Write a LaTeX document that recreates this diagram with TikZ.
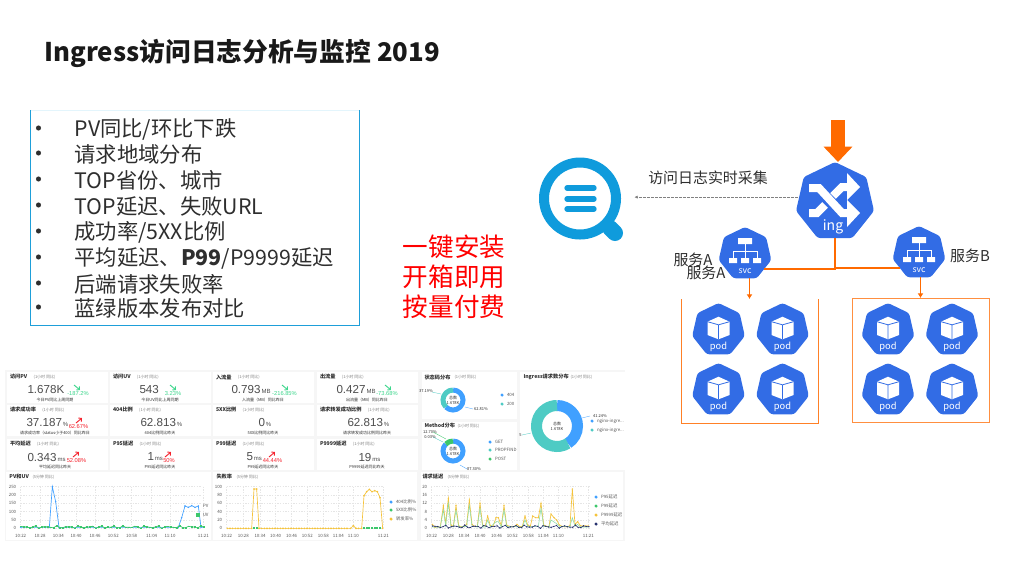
\documentclass[tikz,border=0pt]{standalone}
\usepackage{fontspec}
\setmainfont{Noto Sans CJK SC}
\newfontfamily\kpifont{Liberation Sans}
\usetikzlibrary{arrows.meta,shapes.geometric,plotmarks}

\definecolor{kubeblue}{HTML}{326CE5}
\definecolor{flowaccent}{HTML}{FF6A00}
\definecolor{logoblue}{HTML}{0F9BDC}
\definecolor{listblue}{HTML}{1E9FD9}
\definecolor{listtop}{HTML}{E3F5FC}
\definecolor{inktext}{HTML}{2E2E2E}
\definecolor{dashbg}{HTML}{F6F6F6}
\definecolor{chartblue}{HTML}{40A0FF}
\definecolor{chartgreen}{HTML}{3CC76B}
\definecolor{chartyellow}{HTML}{F5C33B}
\definecolor{chartnavy}{HTML}{27326E}
\definecolor{chartteal}{HTML}{4ECBC4}
\definecolor{kpired}{HTML}{F5222D}
\definecolor{kpigreen}{HTML}{3DD68C}

\tikzset{every picture/.style={line width=0.75pt},
  pagetitle/.style={inner sep=0pt,font=\fontsize{19.3}{24}\selectfont\bfseries,text=black!90},
  listitem/.style={anchor=west,inner sep=0pt,yshift=-1.2pt,font=\fontsize{16}{18}\selectfont,text=inktext},
  bulletdot/.style={circle,fill=inktext,inner sep=0pt,minimum size=3.8pt},
  pitchtext/.style={inner sep=0pt,font=\fontsize{19.2}{22}\selectfont,text=red},
  flowtext/.style={inner sep=0pt,yshift=-0.6pt,font=\fontsize{11.2}{13}\selectfont,text=inktext},
  kubehex/.style={regular polygon,regular polygon sides=7,fill=kubeblue,rounded corners=2pt,inner sep=0pt,outer sep=0pt},
  kubetext/.style={inner sep=0pt,text=white},
  podframe/.style={draw=none,inner sep=0pt,outer sep=0pt,anchor=north west,minimum width=102.75pt,minimum height=93pt},
  flowline/.style={draw=flowaccent,line width=1.1pt},
  flowarrow/.style={draw=flowaccent,line width=1.1pt,-{Latex[length=3.5pt,width=4.5pt]}},
  dashcard/.style={fill=white,draw=none,inner sep=0pt,outer sep=0pt,anchor=north west},
  cardtitle/.style={anchor=west,inner sep=0pt,font=\fontsize{3.9}{4.5}\selectfont\bfseries,text=inktext},
  cardsub/.style={anchor=west,inner sep=0pt,font=\fontsize{3}{4}\selectfont,text=gray},
  cardfoot/.style={inner sep=0pt,font=\fontsize{3}{4}\selectfont,text=inktext},
  kpivalue/.style={anchor=west,inner sep=0pt,font=\kpifont\fontsize{8.7}{10}\selectfont,text=inktext!85},
  kpidelta/.style={inner sep=0pt,font=\kpifont\fontsize{4.3}{5}\selectfont},
  kpiarrow/.style={line width=0.7pt,-{Straight Barb[length=1.6pt,width=3.4pt]}},
  charttick/.style={inner sep=0pt,font=\fontsize{3.3}{4}\selectfont,text=inktext!80},
  chartgrid/.style={draw=black!10,line width=0.3pt,dash pattern=on 1pt off 1pt},
  legendtext/.style={anchor=west,inner sep=0pt,font=\fontsize{3.3}{4}\selectfont,text=inktext!80},
  legenddot/.style={circle,inner sep=0pt,minimum size=2.6pt},
  leader/.style={line width=0.25pt},
  podicon/.pic={
    \begin{scope}[yscale=-1]
    \node (-hex) [kubehex,minimum size=40.5pt] at (0,0) {};
    \fill [white,line join=round] (0,-13.3) -- (11,-8.3) -- (11,5) -- (0,9.3) -- (-11,5) -- (-11,-8.3) -- cycle;
    \draw [kubeblue,line width=0.6pt] (-11,-8.3) -- (0,-5.2) -- (11,-8.3) (0,-5.2) -- (0,9.3);
    \node (-label) [kubetext,font=\fontsize{7}{8}\selectfont] at (0,16.7) {pod};
    \end{scope}
  },
  svcicon/.pic={
    \begin{scope}[yscale=-1]
    \node (-hex) [kubehex,minimum size=40.5pt] at (0,0) {};
    \fill [white] (-7,-16) rectangle (7,-10) (-16,4) rectangle (-8,9) (-4,4) rectangle (4,9) (8,4) rectangle (16,9);
    \draw [white,line width=0.7pt] (0,-10) -- (0,4) (-12,4) -- (-12,-2.5) -- (12,-2.5) -- (12,4);
    \node (-label) [kubetext,font=\fontsize{6.5}{7}\selectfont] at (0,17) {svc};
    \end{scope}
  },
  ingicon/.pic={
    \begin{scope}[yscale=-1]
    \node (-hex) [kubehex,minimum size=60pt] at (0,0) {};
    \draw [white,line width=6pt] (-26,-14) -- (-16,-14) -- (7,11) -- (13,11);
    \draw [white,line width=6pt] (-26,11) -- (-18,11) -- (-10,3);
    \draw [white,line width=6pt] (-2,-6) -- (7,-15) -- (13,-15);
    \fill [white] (12,-2) -- (25,11) -- (12,25) -- cycle;
    \fill [white] (12,-29) -- (25,-15) -- (12,-2) -- cycle;
    \node (-label) [kubetext,font=\fontsize{10.5}{12}\selectfont] at (-2,25) {ing};
    \end{scope}
  }
}

% name, x, y, title, footer, footer centre
\newcommand{\kpicard}[6]{
  \node (#1) [dashcard,minimum width=75.5pt,minimum height=23.6pt] at (#2,#3) {};
  \node (#1title) [cardtitle] at (#2+2.5,#3+5) {#4};
  \node (#1sub) [cardsub] at ([xshift=4pt]#1title.east) {(1小时 同比)};
  \node (#1foot) [cardfoot] at (#6,#3+28) {#5};
}
% name, x, y, value, unit
\newcommand{\kpinumber}[5]{
  \node (#1value) [kpivalue] at (#2,#3) {#4{\fontsize{4.5}{5}\selectfont\,#5}};
}
% name, x, y, text, colour
\newcommand{\kpichange}[5]{
  \node (#1delta) [kpidelta,text=#5] at (#2,#3) {#4};
}
% name, x, y, colour, text
\newcommand{\legendrow}[5]{
  \node (#1dot) [legenddot,fill=#4] at (#2,#3) {};
  \node (#1text) [legendtext] at (#2+4.5,#3) {#5};
}
% centre x, centre y, radius, width, start, end, colour
\newcommand{\donutarc}[7]{
  \draw [#7,line width=#4] (#1,#2) ++(#5:#3) arc (#5:#6:#3);
}

\begin{document}
\begin{tikzpicture}[x=0.75pt,y=0.75pt,yscale=-1,xscale=1]
\useasboundingbox (0,0) rectangle (1024,576);

% Text Node
\draw (44,53.5) node (title) [anchor=west,pagetitle] {Ingress访问日志分析与监控 2019};

%Shape: Rectangle
\draw [listtop] (30,110) -- (359,110);
\draw [listblue] (30,110) -- (30,325) -- (359,325) -- (359,110);

% Text Node
\draw (74,128) node (itema) [listitem] {PV同比/环比下跌};
\draw (74,153) node (itemb) [listitem] {请求地域分布};
\draw (74,179) node (itemc) [listitem] {TOP省份、城市};
\draw (74,205) node (itemd) [listitem] {TOP延迟、失败URL};
\draw (74,231) node (iteme) [listitem] {成功率/5XX比例};
\draw (74,257) node (itemf) [listitem] {平均延迟、\textbf{P99}/P9999延迟};
\draw (74,283) node (itemg) [listitem] {后端请求失败率};
\draw (74,307) node (itemh) [listitem] {蓝绿版本发布对比};
\foreach \zy in {128,153,179,205,231,257,283,307}
  \node (bullet\zy) [bulletdot] at (38.5,\zy) {};

% Text Node
\draw (454,247) node (pitcha) [pitchtext] {一键安装};
\draw (454,277) node (pitchb) [pitchtext] {开箱即用};
\draw (454,307) node (pitchc) [pitchtext] {按量付费};

%Shape: log service logo
\node (logo) [circle,draw=logoblue,line width=7.5pt,inner sep=0pt,minimum size=54pt] at (580,198.5) {};
\draw [logoblue,line width=4pt,line cap=round] (567,188) -- (594,188);
\draw [logoblue,line width=4pt,line cap=round] (567,199) -- (594,199);
\draw [logoblue,line width=4pt,line cap=round] (567,209) -- (594,209);
\draw [logoblue,line width=12pt,line cap=round] (610,228) -- (615,233);

%Shape: Kubernetes nodes
\pic (ing) at (835,202) {ingicon};
\pic (svca) at (745,254) {svcicon};
\pic (svcb) at (919,253) {svcicon};
\pic (podaa) at (718.5,330) {podicon};
\pic (podab) at (782.5,330) {podicon};
\pic (podac) at (718.5,390) {podicon};
\pic (podad) at (782.5,390) {podicon};
\pic (podba) at (888,330) {podicon};
\pic (podbb) at (952,330) {podicon};
\pic (podbc) at (888,390) {podicon};
\pic (podbd) at (952,390) {podicon};

%Shape: Rectangle
\node (framea) [podframe] at (681,299) {};
\node (frameb) [podframe] at (852,298) {};
\draw [flowaccent!85] (framea.north west) -- (framea.south west) -- (framea.south east) -- (framea.north east);
\draw [flowaccent!75] (frameb.north west) rectangle (frameb.south east);

%Straight Lines
\coordinate (traffic) at (838,120);
\draw [flowaccent,line width=10.5pt,-{Triangle[length=11.5pt,width=21pt]}] (traffic) -- (traffic |- ing-hex.north);
\draw [flowline] (ing-hex.side 4) |- (svca-hex.side 5);
\draw [flowline] (ing-hex.side 4) |- (svcb-hex.side 3);
\draw [flowarrow] (svca-hex.south -| framea.north) -- (framea.north);
\draw [flowarrow] (svcb-hex.south -| frameb.north) -- (frameb.north);
\coordinate (logoport) at ([yshift=-1pt,xshift=10pt]logo.east);
\draw [black!50,line width=0.6pt,dash pattern=on 2pt off 1pt,-{Latex[length=2.5pt,width=2.5pt]}] (ing-hex.west |- logoport) -- (logoport);

% Text Node
\draw (708,177) node (collect) [flowtext] {访问日志实时采集};
\draw (693,259) node (svcalabel) [flowtext] {服务A};
\draw (706,272) node (svcaagain) [flowtext] {服务A};
\draw (970,255) node (svcblabel) [flowtext] {服务B};

%Shape: dashboard
\node (dashboard) [dashcard,fill=dashbg,minimum width=465pt,minimum height=128.25pt] at (5,370) {};

\kpicard{pv}{7}{372}{访问PV}{今日PV同比上周同期}{55}
\kpicard{uv}{110}{372}{访问UV}{今日UV同比上周同期}{160}
\kpicard{inflow}{213}{372}{入流量}{入流量（MB）同比昨日}{263}
\kpicard{outflow}{317}{372}{出流量}{出流量（MB）同比昨日}{367}
\kpicard{succ}{7}{405}{请求成功率}{请求成功率（status小于400）同比昨日}{55}
\kpicard{fourxx}{110}{405}{404比例}{404比例同比昨天}{160}
\kpicard{fivexx}{213}{405}{5XX比例}{5XX比例同比昨天}{263}
\kpicard{proxy}{317}{405}{请求转发成功比例}{请求转发成功比例同比昨天}{367}
\kpicard{avg}{7}{439}{平均延迟}{平均延迟同比昨天}{55}
\kpicard{pnf}{110}{439}{P95延迟}{P95延迟同比昨天}{160}
\kpicard{pnn}{213}{439}{P99延迟}{P99延迟同比昨天}{263}
\kpicard{pnnnn}{317}{439}{P9999延迟}{P9999延迟同比昨天}{367}

\kpinumber{pv}{27}{389}{1.678K}{}
\kpinumber{uv}{139}{389}{543}{}
\kpinumber{inflow}{231}{389}{0.793}{MB}
\kpinumber{outflow}{336}{389}{0.427}{MB}
\kpinumber{succ}{26}{422}{37.187}{\%}
\kpinumber{fourxx}{140}{422}{62.813}{\%}
\kpinumber{fivexx}{258}{422}{0}{\%}
\kpinumber{proxy}{347}{422}{62.813}{\%}
\kpinumber{avg}{27}{457}{0.343}{ms}
\kpinumber{pnf}{147}{457}{1}{ms}
\kpinumber{pnn}{246}{457}{5}{ms}
\kpinumber{pnnnn}{358}{457}{19}{ms}

\kpichange{pv}{78}{394}{-187.2\%}{kpigreen}
\kpichange{uv}{173}{394}{3.23\%}{kpigreen}
\kpichange{inflow}{284.5}{394}{-216.85\%}{kpigreen}
\kpichange{outflow}{387}{394}{-73.68\%}{kpigreen}
\kpichange{succ}{78.5}{427}{62.67\%}{kpired}
\kpichange{avg}{76.5}{461}{52.08\%}{kpired}
\kpichange{pnf}{169}{461}{50\%}{kpired}
\kpichange{pnn}{272.5}{461}{44.44\%}{kpired}

\draw [kpiarrow,kpigreen] (74,385) -- (80,390);
\draw [kpiarrow,kpigreen] (170,385) -- (176,390);
\draw [kpiarrow,kpigreen] (282,385) -- (288,390);
\draw [kpiarrow,kpigreen] (385,385) -- (391,390);
\draw [kpiarrow,kpired] (76,423) -- (82,418);
\draw [kpiarrow,kpired] (73,457) -- (79,452);
\draw [kpiarrow,kpired] (165,457) -- (171,452);
\draw [kpiarrow,kpired] (269,457) -- (275,452);

%Shape: donut cards
\node (statuscard) [dashcard,minimum width=71.25pt,minimum height=35.25pt] at (422,372) {};
\node (methodcard) [dashcard,minimum width=71.25pt,minimum height=36pt] at (422,422) {};
\node (podcard) [dashcard,minimum width=78.75pt,minimum height=73.5pt] at (520,372) {};
\node (statustitle) [cardtitle] at (424,377) {状态码分布};
\node (statussub) [cardsub] at (454,377) {(1小时 同比)};
\node (methodtitle) [cardtitle] at (424,426) {Method分布};
\node (methodsub) [cardsub] at (457,426) {(1小时 同比)};
\node (podtitle) [cardtitle] at (523,377) {Ingress请求数分布};
\node (podsub) [cardsub] at (570,377) {(1小时 同比)};

\donutarc{453}{400}{10}{3.75pt}{-90}{136}{chartblue}
\donutarc{453}{400}{10}{3.75pt}{136}{270}{chartteal}
\donutarc{453}{451}{10}{3.75pt}{-90}{224}{chartblue}
\donutarc{453}{451}{10}{3.75pt}{224}{270}{chartgreen}
\donutarc{557}{426}{20.5}{8.25pt}{-90}{58}{chartblue}
\donutarc{557}{426}{20.5}{8.25pt}{58}{270}{chartteal}

\node (statustotal) [cardfoot,align=center,font=\fontsize{3}{3.6}\selectfont] at (453,400) {总数\\1.678K};
\node (methodtotal) [cardfoot,align=center,font=\fontsize{3}{3.6}\selectfont] at (453,451) {总数\\1.678K};
\node (podtotal) [cardfoot,align=center,font=\fontsize{3}{3.6}\selectfont] at (557,426) {总数\\1.678K};

\draw [leader,chartteal] (432,392) -- (441,394);
\draw [leader,chartblue] (465,407) -- (473,409);
\draw [leader,chartgreen] (433,432) -- (446,439);
\draw [leader,chartteal] (433,437) -- (443,442);
\draw [leader,chartblue] (460,465) -- (467,469);
\draw [leader,chartblue] (582,418) -- (590,416);
\draw [leader,chartteal] (522,435) -- (531,433);

\node (statusleft) [cardfoot] at (426,391) {37.19\%};
\node (statusright) [cardfoot] at (481,409) {62.81\%};
\node (methodtop) [cardfoot] at (430,432) {12.70\%};
\node (methodmid) [cardfoot] at (430,437) {0.03\%};
\node (methodlow) [cardfoot] at (474,469) {87.30\%};
\node (podright) [cardfoot] at (600,416) {41.24\%};
\node (podleft) [cardfoot] at (520.5,435) {5};

\legendrow{statusa}{502}{395}{chartblue}{404}
\legendrow{statusb}{502}{404}{chartteal}{200}
\legendrow{methoda}{490}{442}{chartblue}{GET}
\legendrow{methodb}{490}{450}{chartteal}{PROPFIND}
\legendrow{methodc}{490}{459}{chartgreen}{POST}
\legendrow{poda}{592}{421}{chartblue}{nginx-ingre...}
\legendrow{podb}{592}{430}{chartteal}{nginx-ingre...}

%Shape: line chart cards
\node (pvcard) [dashcard,minimum width=153.75pt,minimum height=51pt] at (6,472) {};
\node (failcard) [dashcard,minimum width=153pt,minimum height=51pt] at (213,472) {};
\node (latencycard) [dashcard,minimum width=151.5pt,minimum height=51pt] at (421,472) {};
\node (pvtitle) [cardtitle] at (9,477) {PV和UV};
\node (pvsub) [cardsub] at (32,477) {(5分钟 同比)};
\node (failtitle) [cardtitle] at (216,477) {失败率};
\node (failsub) [cardsub] at (236,477) {(5分钟 同比)};
\node (latencytitle) [cardtitle] at (422,477) {请求延迟};
\node (latencysub) [cardsub] at (447,477) {(5分钟 同比)};

% PV chart, in thirds of a pixel
\begin{scope}[shift={(0,465)},scale=0.33333]
\foreach \zy/\ztick in {65/250,90/200,115/150,140/100,165/50,190/0}{
  \draw [chartgrid] (62,\zy) -- (605,\zy);
  \node (pvy\ztick) [charttick,anchor=east] at (50,\zy) {\ztick};
}
\foreach \zx/\ztick in {62/10:22,120/10:28,175/10:34,228/10:40,285/10:46,340/10:52,395/10:58,455/11:04,510/11:10,610/11:21}{
  \draw [chartgrid] (\zx,65) -- (\zx,190);
  \node (pvx\zx) [charttick] at (\zx,212) {\ztick};
}
\draw [chartblue,line width=0.5pt,mark=*,mark size=0.7pt,mark options={fill=chartblue}] plot coordinates {(62,187) (148,187) (157,65) (167,110) (177,187) (535,187) (545,158) (555,123) (565,127) (575,122) (585,127) (595,123) (603,187) (612,187)};
\draw [chartgreen,line width=0.5pt,mark=square*,mark size=0.75pt,mark options={fill=chartgreen}] plot [domain=0:61,samples=62] ({62+9*\x},{186-2.5*sin(\x*97)-2*cos(\x*211)});
\node (pvlast) [legenddot,fill=chartgreen,rectangle,minimum size=3pt] at (595,150) {};
\node (pvname) [charttick] at (617,122) {PV};
\node (uvname) [charttick] at (617,150) {UV};
\end{scope}

% failure chart, in thirds of a pixel
\begin{scope}[shift={(210,465)},scale=0.33333]
\foreach \zy/\ztick in {65/100,90/80,115/60,140/40,165/20,190/0}{
  \draw [chartgrid] (50,\zy) -- (520,\zy);
  \node (faily\ztick) [charttick,anchor=east] at (38,\zy) {\ztick};
}
\foreach \zx/\ztick in {50/10:22,100/10:28,150/10:34,197/10:40,245/10:46,292/10:52,340/10:58,385/11:04,430/11:10,520/11:21}{
  \draw [chartgrid] (\zx,65) -- (\zx,190);
  \node (failx\zx) [charttick] at (\zx,212) {\ztick};
}
\draw [chartyellow,line width=0.5pt,mark=*,mark size=1pt,mark options={fill=chartyellow}] plot coordinates {(52,190) (60,190) (68,190) (76,190) (84,190) (92,190) (100,190) (108,190) (116,190) (125,190) (132,72) (140,72) (147,190) (155,190) (163,190) (171,190) (179,190) (187,190) (195,190) (203,190) (211,190) (219,190) (227,190) (235,190) (243,190) (251,190) (259,190) (267,190) (275,190) (283,190) (291,190) (299,190) (307,190) (315,190) (323,190) (331,190) (339,190) (347,190) (355,190) (363,190) (371,190) (379,190) (387,190) (395,190) (403,190) (411,190) (422,190) (430,182) (438,190) (446,190) (455,190) (462,92) (470,80) (478,73) (486,80) (494,77) (502,80) (510,98) (518,190)};
\draw [chartgreen,only marks,mark=square*,mark size=0.8pt] plot coordinates {(132,190) (140,190) (462,190) (470,190) (478,190) (486,190) (494,190) (502,190) (510,190)};
\end{scope}
\legendrow{faila}{391}{502}{chartblue}{404比例\%}
\legendrow{failb}{391}{510}{chartgreen}{5XX比例\%}
\legendrow{failc}{391}{519}{chartyellow}{转发率\%}

% latency chart, in thirds of a pixel
\begin{scope}[shift={(415,465)},scale=0.33333]
\foreach \zy/\ztick in {65/20,90/16,115/12,140/8,165/4,190/0}{
  \draw [chartgrid] (48,\zy) -- (525,\zy);
  \node (laty\ztick) [charttick,anchor=east] at (38,\zy) {\ztick};
}
\foreach \zx/\ztick in {50/10:22,100/10:28,147/10:34,195/10:40,245/10:46,292/10:52,340/10:58,385/11:04,430/11:10,520/11:21}{
  \draw [chartgrid] (\zx,65) -- (\zx,190);
  \node (latx\zx) [charttick] at (\zx,212) {\ztick};
}
\draw [chartyellow,line width=0.5pt,mark=*,mark size=0.6pt,mark options={fill=chartyellow}] plot coordinates {(52,178) (60,187) (68,185) (76,186) (85,122) (92,175) (100,100) (108,180) (115,184) (123,122) (131,182) (139,186) (147,184) (155,178) (163,105) (171,178) (179,184) (187,184) (195,115) (203,182) (211,182) (218,153) (226,182) (234,184) (243,158) (250,158) (259,182) (267,122) (275,180) (283,184) (291,184) (299,184) (306,178) (314,185) (322,184) (330,153) (338,180) (346,184) (353,153) (362,158) (370,158) (378,115) (386,180) (394,184) (402,184) (408,147) (417,158) (425,165) (433,180) (441,184) (449,185) (457,185) (465,182) (472,72) (480,178) (488,170) (496,182) (504,183) (512,183) (520,183)};
\draw [chartgreen!60,line width=0.4pt] plot coordinates {(52,186) (76,186) (85,135) (92,182) (100,115) (108,184) (115,186) (123,135) (131,186) (155,184) (163,120) (171,184) (187,186) (195,130) (203,186) (211,186) (218,165) (226,186) (243,170) (250,170) (259,186) (267,135) (275,184) (322,186) (330,165) (338,184) (370,184) (378,130) (386,184) (402,186) (408,165) (425,176) (433,184) (465,184) (472,158) (480,184) (488,178) (496,186) (520,186)};
\draw [chartnavy,line width=0.4pt,mark=*,mark size=0.7pt,mark options={fill=chartnavy}] plot [domain=0:58,samples=59] ({52+8.1*\x},{185-3*sin(\x*97)-2*cos(\x*211)});
\end{scope}
\legendrow{lata}{596}{497}{chartblue}{P95延迟}
\legendrow{latb}{596}{506}{chartgreen}{P99延迟}
\legendrow{latc}{596}{515}{chartyellow}{P9999延迟}
\legendrow{latd}{596}{524}{chartnavy}{平均延迟}

\end{tikzpicture}
\end{document}
